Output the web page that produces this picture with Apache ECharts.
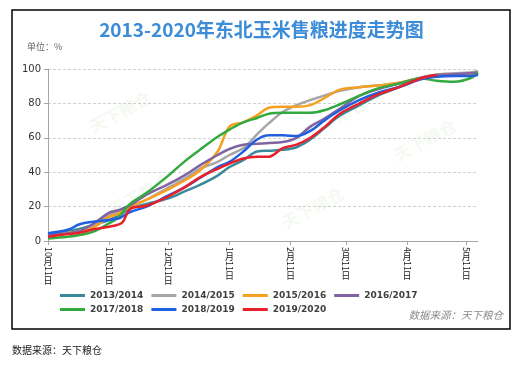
<!DOCTYPE html>
<html><head><meta charset="utf-8">
<script src="https://cdn.jsdelivr.net/npm/echarts@6/dist/echarts.min.js"></script>
<style>html,body{margin:0;padding:0;background:#fff}#c{width:523px;height:370px}</style>
</head><body><div id="c"></div>
<script>
// days after 10月11日
const days = [0, 10, 16, 23, 31, 36, 38, 42, 50, 61, 69, 77, 86, 92, 99, 106, 112, 119, 126, 133, 140, 148, 158, 168, 178, 189, 197, 206, 214, 218];
const tickDays = [0, 31, 61, 92, 123, 151, 182, 212];
const tickLabels = ['10月11日', '11月11日', '12月11日', '1月11日', '2月11日', '3月11日', '4月11日', '5月11日'];
const seriesNames = ['2013/2014', '2014/2015', '2015/2016', '2016/2017', '2017/2018', '2018/2019', '2019/2020'];
const v1314 = [4, 6, 7, 9.5, 12.2, 15, 16.5, 19, 21.5, 24.8, 28.7, 32.6, 38, 43, 47, 52, 52.5, 53, 54.5, 59, 65.5, 73, 79, 85, 89.5, 94.5, 96, 96.5, 97, 98];
const v1415 = [3, 4.5, 6, 9, 15, 17.5, 18.5, 20, 24, 31, 36, 42, 46, 50, 54, 62, 68.5, 75, 79, 82, 84.5, 87.3, 89.4, 90.5, 92, 95, 96.8, 97.5, 98, 98.7];
const v1516 = [3, 4.5, 5.5, 7.8, 14, 16, 17.5, 20, 24, 30, 35, 41, 52, 66.5, 69, 73, 77.5, 78, 78, 79, 83, 88, 89.4, 90.5, 92, 95, 96.5, 97, 97, 97];
const v1617 = [3.5, 4.5, 5.8, 10, 16.5, 18, 19, 21, 27, 33, 38, 44, 50, 53.5, 56, 56.5, 57, 57.5, 60, 66.5, 71, 77, 84.5, 88.5, 91.5, 95, 96.5, 97, 97.5, 98];
const v1718 = [1.5, 2.5, 3.5, 5.4, 10.3, 14, 17, 22, 28, 38, 46, 53, 60.6, 64.8, 69, 71.5, 74, 74.5, 74.5, 74.5, 76, 79.5, 84.5, 89, 91.5, 94.5, 93.2, 92.6, 94.6, 97.7];
const v1819 = [4.5, 6.5, 9.7, 11.2, 12.2, 13.2, 14.5, 17, 20, 26.5, 31, 36.6, 43, 46, 52, 59, 61.5, 61.5, 61, 64, 70, 76, 82, 86.5, 89.5, 94, 95.5, 96, 96, 96.5];
const v1920 = [2.5, 4, 4.8, 6.8, 8.3, 9.7, 11.2, 19, 20.5, 26, 31, 37, 42, 45, 48, 49, 49, 54, 56, 60, 66, 74, 80, 85.5, 89.5, 94.5, 96.5, null, null, null];
const seriesValues = [v1314, v1415, v1516, v1617, v1718, v1819, v1920];
const colors = ['#3B8A9C', '#A6A6A6', '#F5A020', '#8064A2', '#33AA3F', '#2060E0', '#E8202A'];

const isDigit = ch => /[0-9]/.test(ch);
function labelA(v) {
  const i = tickDays.indexOf(v); if (i < 0) return '';
  return tickLabels[i].replace(/[^0-9]/g, '\u3000');
}
function labelB(v) {
  const i = tickDays.indexOf(v); if (i < 0) return '';
  const parts = tickLabels[i].match(/[0-9]+|[^0-9]/g);
  return parts.map(p => isDigit(p[0]) ? '{g' + p.length + '| }' : '{c|' + p + '}').join('\n');
}

const chart = echarts.init(document.getElementById('c'));
const series = seriesNames.map((n, k) => ({
  name: n, type: 'line', smooth: 0.35, showSymbol: false, symbol: 'none',
  data: days.map((d, j) => [d, seriesValues[k][j]]),
  lineStyle: { width: 2.5, color: colors[k] }, itemStyle: { color: colors[k] },
  connectNulls: false
}));
const legendText = { fontFamily: 'DejaVu Sans', fontWeight: 'bold', fontSize: 9, color: '#404040' };
const wm = [[120, 112], [140, 195], [425, 140], [313, 208], [335, 118]];
chart.setOption({
  backgroundColor: '#fff',
  animation: false,
  color: colors,
  title: {
    text: '2013-2020年东北玉米售粮进度走势图', left: 'center', top: 15,
    textStyle: { fontFamily: 'Noto Sans CJK SC', fontSize: 19, fontWeight: 'bold', color: '#3C8CD8' }
  },
  grid: { left: 48, right: 45, top: 69, bottom: 129 },
  xAxis: [{
    type: 'value', min: 0, max: 218, position: 'bottom',
    axisLine: { show: true, lineStyle: { color: '#A6A6A6' } },
    axisTick: { show: true, length: 4, customValues: tickDays, lineStyle: { color: '#A6A6A6' } },
    axisLabel: { customValues: tickDays, rotate: -90, margin: 6, formatter: labelA,
      fontFamily: 'Noto Sans CJK SC', fontSize: 9, color: '#222' },
    splitLine: { show: false }
  }, {
    type: 'value', min: 0, max: 218, position: 'bottom', offset: 0,
    axisLine: { show: false }, axisTick: { show: false }, splitLine: { show: false },
    axisLabel: { customValues: tickDays, margin: 6, formatter: labelB,
      fontFamily: 'Noto Sans CJK SC', fontSize: 9, color: '#222',
      rich: { g1: { fontSize: 1, lineHeight: 5 }, g2: { fontSize: 1, lineHeight: 10 },
        c: { fontFamily: 'Noto Sans CJK SC', fontSize: 9, lineHeight: 9, color: '#222' } } }
  }],
  yAxis: {
    type: 'value', min: 0, max: 100, interval: 20,
    axisLine: { show: true, lineStyle: { color: '#A6A6A6' } },
    axisTick: { show: true, length: 4, lineStyle: { color: '#A6A6A6' } },
    axisLabel: { margin: 7, fontFamily: 'DejaVu Sans', fontSize: 10, color: '#333' },
    splitLine: { show: true, lineStyle: { type: [3, 2], color: '#D0D0D0' } }
  },
  legend: [{
    data: seriesNames.slice(0, 4), left: 60, top: 291, padding: 0, icon: 'rect', itemWidth: 25, itemHeight: 3,
    itemGap: 8, textStyle: legendText, selectedMode: false
  }, {
    data: seriesNames.slice(4), left: 60, top: 305, padding: 0, icon: 'rect', itemWidth: 25, itemHeight: 3,
    itemGap: 8, textStyle: legendText, selectedMode: false
  }],
  graphic: [
    { type: 'rect', shape: { x: 12, y: 10, width: 498, height: 319 }, style: { fill: 'none', stroke: '#000', lineWidth: 1.5 }, silent: true },
    { type: 'text', left: 27, top: 42, style: { text: '单位：%', fontFamily: 'Noto Sans CJK SC', fontSize: 9, fill: '#666' } },
    { type: 'text', right: 20, top: 310, style: { text: '数据来源：天下粮仓', fontFamily: 'Noto Sans CJK SC', fontStyle: 'italic', fontSize: 10.5, fill: '#8C8C8C' } },
    { type: 'text', left: 12, top: 345, style: { text: '数据来源：天下粮仓', fontFamily: 'Noto Sans CJK SC', fontSize: 10, fill: '#222' } }
  ].concat(wm.map(p => ({
    type: 'text', x: p[0], y: p[1], rotation: 0.5, z: -1, silent: true,
    style: { text: '天下粮仓', fontFamily: 'Noto Sans CJK SC', fontWeight: 'bold', fontSize: 17, fill: 'rgba(150,200,120,0.10)', align: 'center', verticalAlign: 'middle' }
  }))),
  series: series
});
</script></body></html>
